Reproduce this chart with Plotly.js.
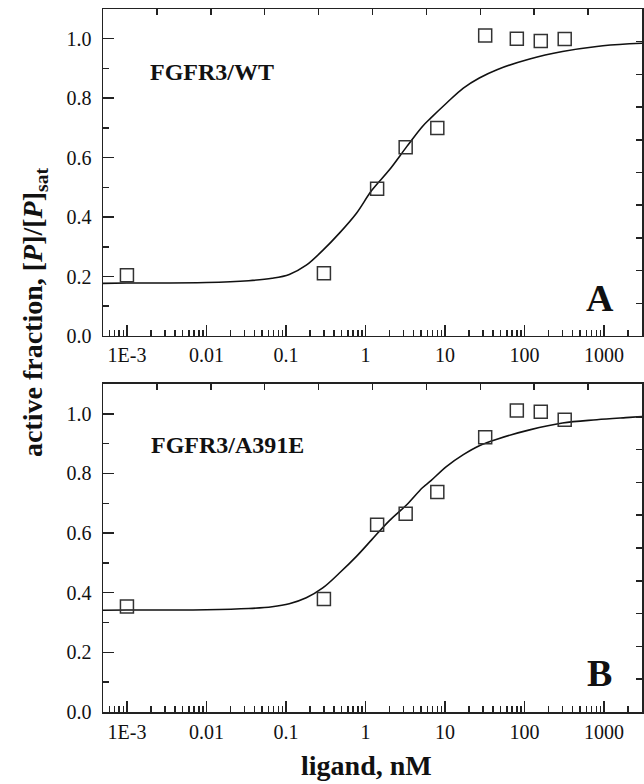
<!DOCTYPE html>
<html>
<head>
<meta charset="utf-8">
<script src="https://cdn.plot.ly/plotly-3.0.1.min.js"></script>
<style>html,body{margin:0;padding:0;background:#fff;}#chart{width:644px;height:784px;}</style>
</head>
<body>
<div id="chart"></div>
<script>
// Tick labels
const xTickVals = [0.001, 0.01, 0.1, 1, 10, 100, 1000];
const xTickText = ['1E-3', '0.01', '0.1', '1', '10', '100', '1000'];
const yTickVals = [0, 0.2, 0.4, 0.6, 0.8, 1.0];
const yTickText = ['0.0', '0.2', '0.4', '0.6', '0.8', '1.0'];

// Measured data (ligand, nM)
const ligand = [0.001, 0.3, 1.4, 3.2, 8, 32, 80, 160, 320];
const wtFraction = [0.204, 0.211, 0.495, 0.635, 0.700, 1.011, 1.000, 0.992, 0.999];
const a391eFraction = [0.354, 0.379, 0.628, 0.665, 0.738, 0.921, 1.011, 1.007, 0.980];

// Fitted curves
const fitLigand = [0.0005, 0.001, 0.01, 0.034, 0.067, 0.11, 0.18, 0.29, 0.47, 0.77, 1.2, 2.0, 3.3, 5.2, 6.6, 10.4, 17, 27, 45, 116, 300, 810, 2100, 3000];
const wtFit = [0.177, 0.178, 0.180, 0.186, 0.194, 0.207, 0.238, 0.288, 0.346, 0.413, 0.49, 0.559, 0.637, 0.705, 0.733, 0.783, 0.834, 0.868, 0.896, 0.932, 0.957, 0.974, 0.983, 0.985];
const a391eFit = [0.341, 0.342, 0.343, 0.347, 0.353, 0.363, 0.383, 0.416, 0.466, 0.522, 0.578, 0.642, 0.695, 0.752, 0.775, 0.823, 0.863, 0.893, 0.915, 0.946, 0.969, 0.98, 0.988, 0.991];

const FONT = 'Liberation Serif, Times New Roman, serif';
const AX = '#222';

const minorLog = [];
for (let d = -4; d <= 3; d++) for (let k = 2; k <= 9; k++) minorLog.push(k * Math.pow(10, d));

const markerStyle = {symbol: 'square-open', size: 13, color: '#333', line: {width: 1.5, color: '#333'}};
const lineStyle = {color: '#111', width: 1.6, shape: 'spline', smoothing: 1};

const traces = [
  {x: fitLigand, y: wtFit, mode: 'lines', line: lineStyle, xaxis: 'x2', yaxis: 'y2', hoverinfo: 'skip'},
  {x: ligand, y: wtFraction, mode: 'markers', marker: markerStyle, xaxis: 'x2', yaxis: 'y2'},
  {x: fitLigand, y: a391eFit, mode: 'lines', line: lineStyle, xaxis: 'x', yaxis: 'y', hoverinfo: 'skip'},
  {x: ligand, y: a391eFraction, mode: 'markers', marker: markerStyle, xaxis: 'x', yaxis: 'y'},
  {x: [], y: [], xaxis: 'x3', yaxis: 'y2', showlegend: false},
  {x: [], y: [], xaxis: 'x2', yaxis: 'y3', showlegend: false},
  {x: [], y: [], xaxis: 'x4', yaxis: 'y', showlegend: false},
  {x: [], y: [], xaxis: 'x', yaxis: 'y4', showlegend: false}
];

function logAxis(anchor) {
  return {
    type: 'log', range: [Math.log10(0.0005), Math.log10(3000)], anchor: anchor,
    tickmode: 'array', tickvals: xTickVals, ticktext: xTickText,
    ticks: 'inside', ticklen: 11, tickwidth: 1.5, tickcolor: AX,
    minor: {tickmode: 'array', tickvals: minorLog, ticks: 'inside', ticklen: 6, tickwidth: 1.5, tickcolor: AX},
    showline: true, linecolor: AX, linewidth: 1.5, showgrid: false, zeroline: false,
    tickfont: {family: FONT, size: 20, color: '#111'}, ticklabelstandoff: 1
  };
}
function linAxis(anchor, domain) {
  return {
    range: [0, 1.1], anchor: anchor, domain: domain,
    tickmode: 'array', tickvals: yTickVals, ticktext: yTickText,
    ticks: 'inside', ticklen: 11, tickwidth: 1.5, tickcolor: AX,
    minor: {dtick: 0.1, tick0: 0, ticks: 'inside', ticklen: 6, tickwidth: 1.5, tickcolor: AX},
    showline: true, linecolor: AX, linewidth: 1.5, showgrid: false, zeroline: false,
    tickfont: {family: FONT, size: 20, color: '#111'}, ticklabelstandoff: 6
  };
}
function topAxis(over, anchor) {
  return {overlaying: over, side: 'top', anchor: anchor, range: [0, 10], tickmode: 'linear', tick0: 0, dtick: 1,
    ticks: 'inside', ticklen: 6, tickwidth: 1.5, tickcolor: AX, showticklabels: false,
    showline: true, linecolor: AX, linewidth: 1.5, showgrid: false, zeroline: false};
}
function rightAxis(over, anchor) {
  return {overlaying: over, side: 'right', anchor: anchor, range: [0, 10], tickmode: 'linear', tick0: 0, dtick: 1,
    ticks: 'inside', ticklen: 6, tickwidth: 1.5, tickcolor: AX, showticklabels: false,
    showline: true, linecolor: AX, linewidth: 1.5, showgrid: false, zeroline: false};
}

const layout = {
  width: 644, height: 784,
  margin: {l: 103, r: 2, t: 9, b: 72},
  paper_bgcolor: '#fff', plot_bgcolor: '#fff',
  showlegend: false,
  font: {family: FONT, color: '#111'},
  xaxis: logAxis('y'),
  xaxis2: logAxis('y2'),
  yaxis: linAxis('x', [0, 0.4666]),
  yaxis2: linAxis('x2', [0.5349, 1]),
  xaxis3: topAxis('x2', 'y2'),
  yaxis3: rightAxis('y2', 'x2'),
  xaxis4: topAxis('x', 'y'),
  yaxis4: rightAxis('y', 'x'),
  annotations: [
    {text: '<b>FGFR3/WT</b>', xref: 'x2 domain', yref: 'y2 domain', x: 0.0835, y: 0.807, xanchor: 'left', yanchor: 'middle', showarrow: false, font: {family: FONT, size: 24, color: '#111'}},
    {text: '<b>FGFR3/A391E</b>', xref: 'x domain', yref: 'y domain', x: 0.085, y: 0.814, xanchor: 'left', yanchor: 'middle', showarrow: false, font: {family: FONT, size: 24, color: '#111'}},
    {text: '<b>A</b>', xref: 'x2 domain', yref: 'y2 domain', x: 0.922, y: 0.116, xanchor: 'center', yanchor: 'middle', showarrow: false, font: {family: FONT, size: 38, color: '#111'}},
    {text: '<b>B</b>', xref: 'x domain', yref: 'y domain', x: 0.922, y: 0.119, xanchor: 'center', yanchor: 'middle', showarrow: false, font: {family: FONT, size: 38, color: '#111'}},
    {text: '<b>active fraction, [<i>P</i>]/[<i>P</i>]<sub>sat</sub></b>', xref: 'paper', yref: 'paper', x: -0.126, y: 0.569, xanchor: 'center', yanchor: 'middle', textangle: -90, showarrow: false, font: {family: FONT, size: 28, color: '#111'}},
    {text: '<b>ligand, nM</b>', xref: 'paper', yref: 'paper', x: 0.488, y: -0.0754, xanchor: 'center', yanchor: 'middle', showarrow: false, font: {family: FONT, size: 28, color: '#111'}}
  ]
};

Plotly.newPlot('chart', traces, layout, {staticPlot: true, displayModeBar: false});
</script>
</body>
</html>
